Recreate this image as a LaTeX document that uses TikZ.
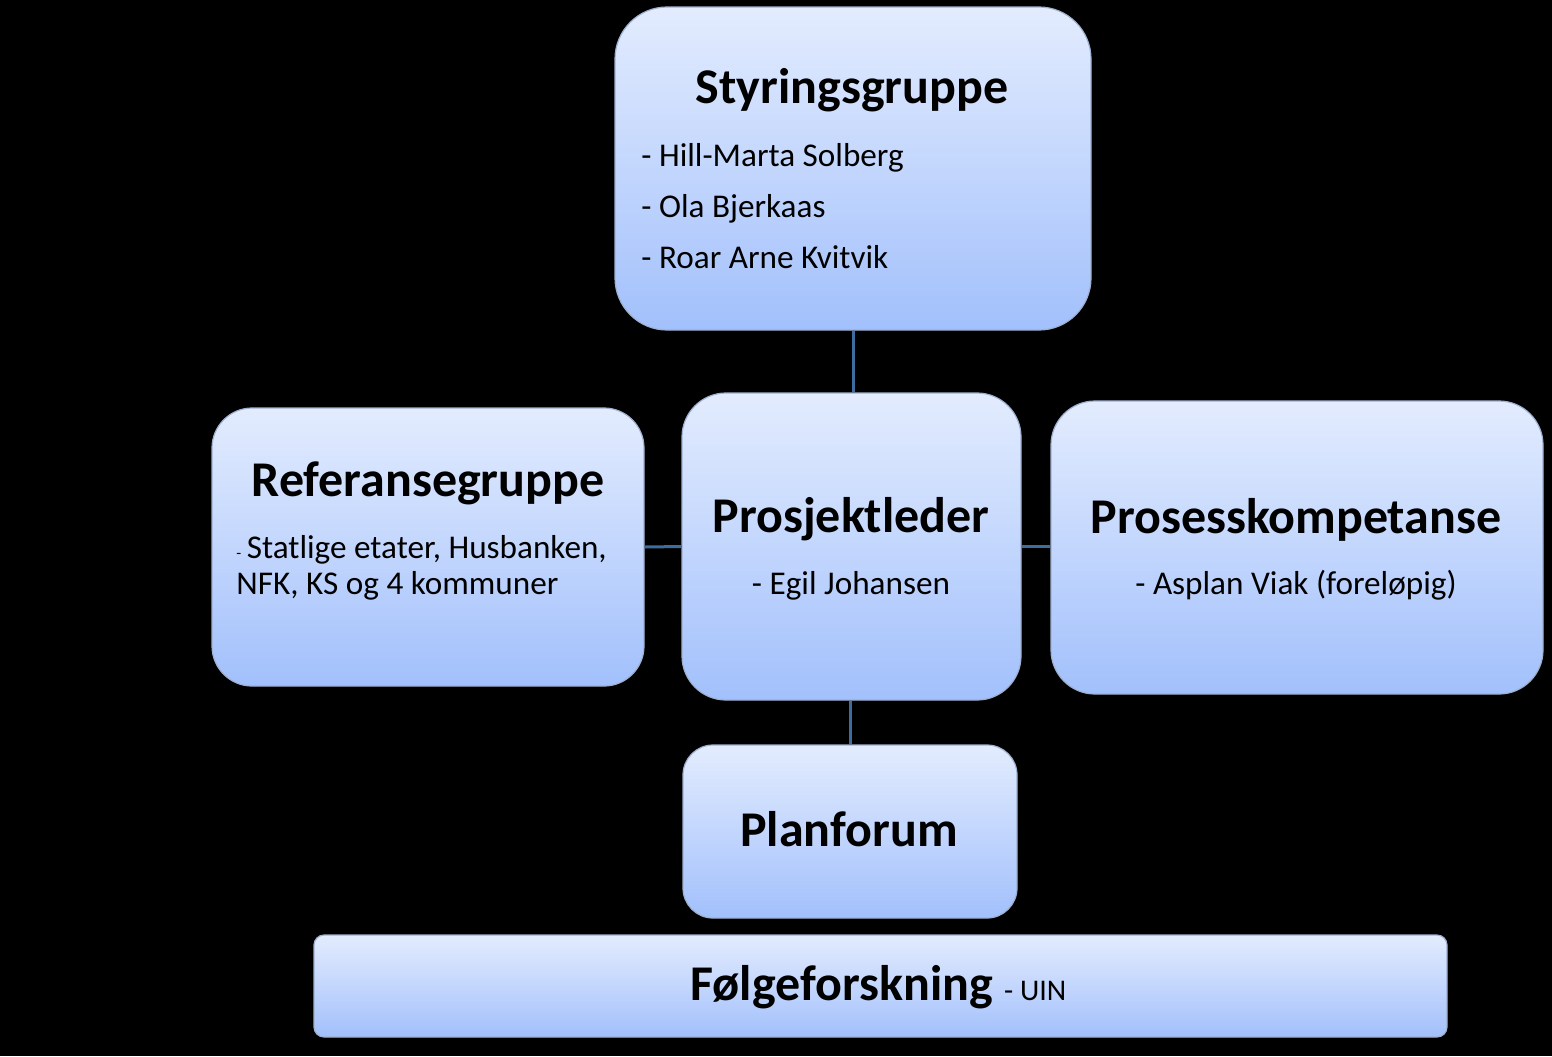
\documentclass[tikz,border=0pt]{standalone}
\usepackage{fontspec}
\setmainfont{Carlito}
\usepackage{tikz}
\usetikzlibrary{positioning, calc}

\definecolor{boxtop}{HTML}{E3ECFE}
\definecolor{boxbottom}{HTML}{A2C0FC}
\definecolor{boxline}{HTML}{9DB0CF}
\definecolor{linkblue}{HTML}{3E6C9E}

\begin{document}
\begin{tikzpicture}[
    x=0.5pt, y=-0.5pt,
    group/.style={rectangle, draw=boxline, line width=0.6pt, top color=boxtop, bottom color=boxbottom, inner sep=0pt},
    title/.style={font=\fontsize{25}{30}\selectfont\bfseries, anchor=base, inner sep=0pt},
    member/.style={font=\fontsize{16.6}{20}\selectfont, anchor=base west, inner sep=0pt},
    link/.style={draw=linkblue, line width=1.5pt}
]
    % Background
    \fill[black] (0,0) rectangle (1552,1056);
    \useasboundingbox (0,0) rectangle (1552,1056);

    % Boxes
    \node[group, minimum width=238pt, minimum height=161.5pt, rounded corners=26pt] (styr) at (853,168.5) {};
    \node[group, minimum width=216pt, minimum height=139pt, rounded corners=20pt] (ref) at (428,547) {};
    \node[group, minimum width=169.5pt, minimum height=153.5pt, rounded corners=22pt] (leder) at (851.5,546.5) {};
    \node[group, minimum width=246pt, minimum height=146.5pt, rounded corners=22pt] (prosess) at (1297,547.5) {};
    \node[group, minimum width=167pt, minimum height=86.5pt, rounded corners=15pt] (plan) at (850,831.5) {};
    \node[group, minimum width=566.5pt, minimum height=51pt, rounded corners=5pt] (folge) at (880.5,986) {};

    % Texts
    \node[title] (styrtitle) at (852,103) {Styringsgruppe};
    \node[member] (hill) at (641,166) {- Hill-Marta Solberg};
    \node[member] (ola) at (641,217) {- Ola Bjerkaas};
    \node[member] (roar) at (641,268) {- Roar Arne Kvitvik};

    \node[title] (reftitle) at (428,496) {Referansegruppe};
    \node[member] (statlige) at (236,558) {{\fontsize{8}{10}\selectfont -}\,Statlige etater, Husbanken,};
    \node[member] (nfk) at (236,594) {NFK, KS og 4 kommuner};

    \node[title] (ledertitle) at (851,532) {Prosjektleder};
    \node[member, anchor=base] (egil) at (851,594) {- Egil Johansen};

    \node[title] (prosesstitle) at (1296,533) {Prosesskompetanse};
    \node[member, anchor=base] (asplan) at (1296,594) {- Asplan Viak (foreløpig)};

    \node[title] (plantitle) at (849,846) {Planforum};

    \node[title, anchor=base west] (folgetitle) at (690,1000) {Følgeforskning {\fontsize{15}{18}\selectfont\mdseries - UIN}};

    % Connection Lines
    \draw[link] (styr.south) -- (styr.south |- leder.north);
    \draw[link] (ref.east) -- (leder.west);
    \draw[link] (leder.east) -- (leder.east -| prosess.west);
    \draw[link] (plan.north |- leder.south) -- (plan.north);
\end{tikzpicture}
\end{document}
